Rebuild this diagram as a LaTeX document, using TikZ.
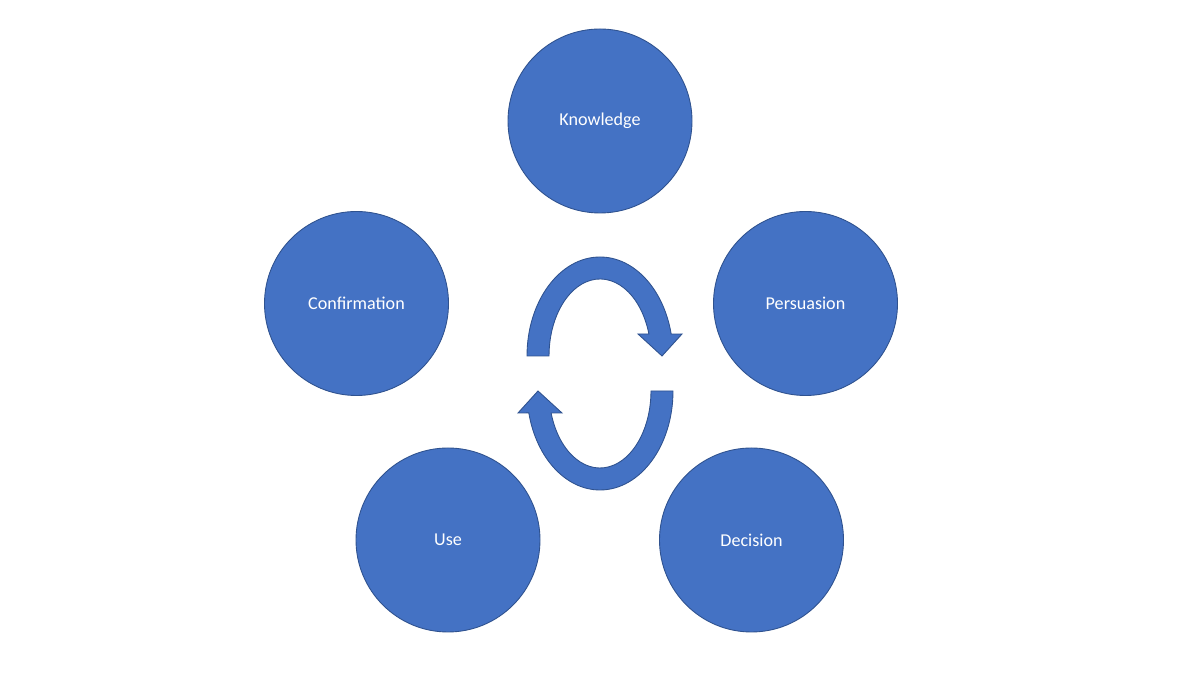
\documentclass[tikz,border=0pt]{standalone}
\usepackage{fontspec}
\setmainfont{Carlito}
\usepackage{xcolor}
\usepackage{tikz}

\definecolor{stageblue}{HTML}{4472C4}
\definecolor{stageedge}{HTML}{2F528F}

\begin{document}
\begin{tikzpicture}[x=0.02cm,y=0.02cm,
		stage/.style={circle, minimum size=184*0.02cm, inner sep=0pt,
			fill=stageblue, draw=stageedge, line width=0.5pt,
			text=white, font=\fontsize{10.3}{12}\selectfont},
		turn/.style={fill=stageblue, draw=stageedge, line width=0.5pt}]
				\useasboundingbox (0,0) rectangle (1200,675);
				
				% the five stages
				\foreach \x/\y/\n in
				{600/554/Knowledge, 805.5/371.5/Persuasion, 751.5/135/Decision,
				 448/135/Use, 356.5/371.5/Confirmation}{
					\node[stage] (\n) at (\x,\y) {\n};
				}
				
				% curved arrows in the middle (upper one, then turned round)
				\foreach \r in {0,180}{
					\fill[turn, rotate around={\r:(600,301.5)}]
						(527,319) arc[start angle=180, end angle=12.8, x radius=73, y radius=99]
						-- (682,341) -- (662,319) -- (638,341) -- (648.9,341)
						arc[start angle=16.6, end angle=180, x radius=51, y radius=77]
						-- cycle;
				}
			\end{tikzpicture}
\end{document}
